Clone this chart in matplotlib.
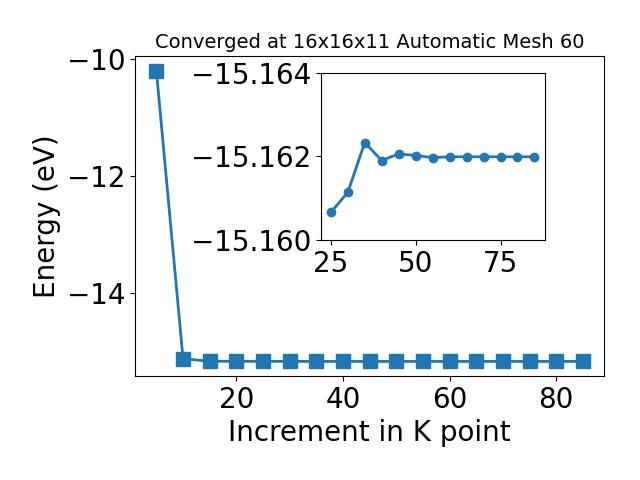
import matplotlib
matplotlib.use("Agg")
import matplotlib.pyplot as plt

# k-point increments and total energies (eV)
kpoints = [5, 10, 15, 20, 25, 30, 35, 40, 45, 50, 55, 60, 65, 70, 75, 80, 85]
energy = [-10.19, -15.115, -15.159, -15.160, -15.16066, -15.16114, -15.16233,
          -15.16190, -15.16206, -15.16202, -15.16197, -15.16199, -15.16199,
          -15.16199, -15.16199, -15.16199, -15.16199]

# inset: converged region
kpoints_zoom = [25, 30, 35, 40, 45, 50, 55, 60, 65, 70, 75, 80, 85]
energy_zoom = [-15.16066, -15.16114, -15.16233, -15.16190, -15.16206, -15.16202,
               -15.16197, -15.16199, -15.16199, -15.16199, -15.16199, -15.16199,
               -15.16199]

fig = plt.figure(figsize=(6.4, 4.8), dpi=100)
ax = fig.add_axes([0.211, 0.2167, 0.733, 0.6667])
ax.plot(kpoints, energy, marker='s', markersize=10, linewidth=2, color='#1f77b4')
ax.set_xlabel('Increment in K point', fontsize=20)
ax.set_ylabel('Energy (eV)', fontsize=20)
ax.set_title('Converged at 16x16x11 Automatic Mesh 60', fontsize=14)
ax.tick_params(labelsize=20)

axin = fig.add_axes([0.501, 0.5, 0.35, 0.3485])
axin.plot(kpoints_zoom, energy_zoom, marker='o', markersize=6, linewidth=2, color='#1f77b4')
axin.set_ylim(-15.160, -15.164)
axin.set_yticks([-15.164, -15.162, -15.160])
axin.set_xticks([25, 50, 75])
axin.tick_params(labelsize=20)

fig.savefig('out.png', dpi=100)
